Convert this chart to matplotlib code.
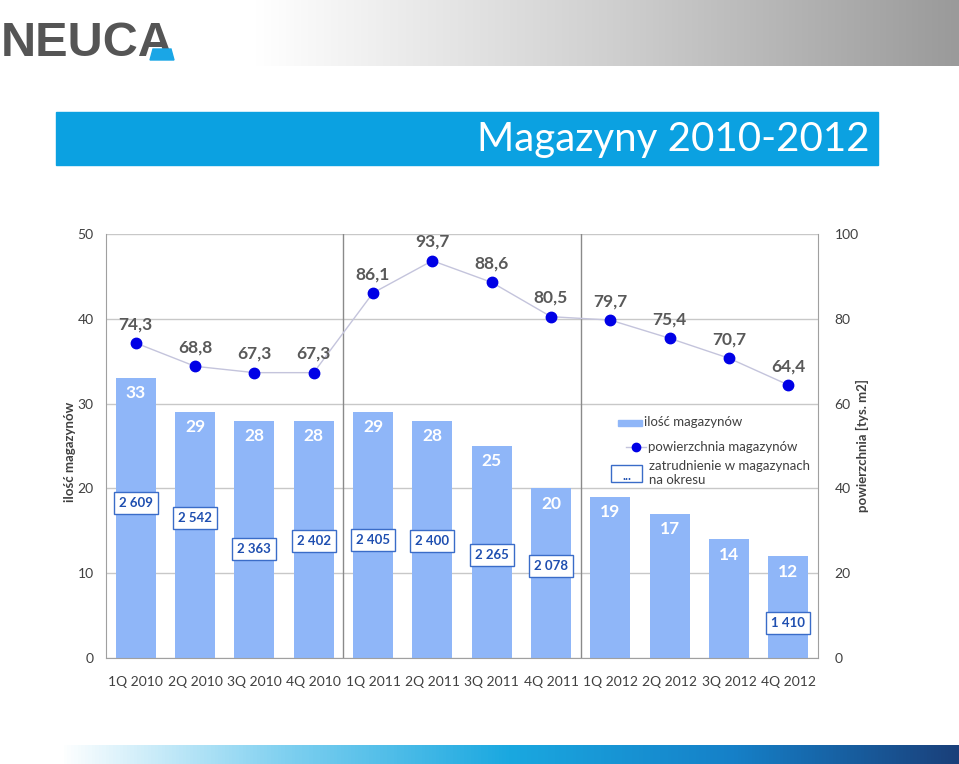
import numpy as np
import matplotlib
matplotlib.use("Agg")
import matplotlib.pyplot as plt
from matplotlib.patches import Rectangle, Polygon
from matplotlib.lines import Line2D
from matplotlib.colors import LinearSegmentedColormap

plt.rcParams['font.family'] = ['Lato', 'DejaVu Sans']

# ---- data ----
quarters = ["1Q 2010", "2Q 2010", "3Q 2010", "4Q 2010", "1Q 2011", "2Q 2011",
            "3Q 2011", "4Q 2011", "1Q 2012", "2Q 2012", "3Q 2012", "4Q 2012"]
warehouses = [33, 29, 28, 28, 29, 28, 25, 20, 19, 17, 14, 12]
area = [74.3, 68.8, 67.3, 67.3, 86.1, 93.7, 88.6, 80.5, 79.7, 75.4, 70.7, 64.4]
employment = [2609, 2542, 2363, 2402, 2405, 2400, 2265, 2078, None, None, None, 1410]
# label placement (left-axis units) for employment boxes
emp_label_y = [18.3, 16.5, 12.9, 13.8, 13.9, 13.8, 12.1, 10.8, None, None, None, 4.1]

left_ticks = [0, 10, 20, 30, 40, 50]
right_ticks = [0, 20, 40, 60, 80, 100]

def fmt_dec(v):
    return f"{v:.1f}".replace(".", ",")

def fmt_thousands(v):
    return f"{v:,}".replace(",", " ")

W, H = 959, 764
fig = plt.figure(figsize=(W / 100, H / 100), dpi=100)

# ---- header decorations ----
bg = fig.add_axes([0, 0, 1, 1], zorder=-10)
bg.set_xlim(0, W)
bg.set_ylim(H, 0)
bg.axis("off")

grad = np.linspace(0, 1, 256)[None, :]
gcm = LinearSegmentedColormap.from_list("g", ["#ffffff", "#d0d0d0", "#9a9a9a"])
bg.imshow(grad, cmap=gcm, extent=[255, W, 66, 0], aspect="auto")
bcm = LinearSegmentedColormap.from_list("b", ["#ffffff", "#7fd0f0", "#1aa8e0", "#1580c8", "#1a3f7a"])
bg.imshow(grad, cmap=bcm, extent=[60, W, H, 745], aspect="auto")

# logo
bg.text(1, 43, "NEUCA", fontsize=35, fontweight="bold", color="#555555",
        family=["Liberation Sans", "DejaVu Sans"], va="center", ha="left")
bg.add_patch(Polygon([[153, 49], [171, 49], [174, 60], [150, 60]], closed=True,
                     color="#1aa6e6", zorder=5))

# title bar
bg.add_patch(Rectangle((56, 112), 822, 53, color="#0ba1e1"))
bg.text(870, 140, "Magazyny 2010-2012", fontsize=29, color="white",
        ha="right", va="center")

# ---- chart ----
ax = fig.add_axes([106 / W, 1 - 658 / H, 712 / W, 424 / H])
x = np.arange(len(quarters))
bar_color = "#8fb6f8"
txt_color = "#404040"

ax.set_xlim(-0.5, len(quarters) - 0.5)
ax.set_ylim(0, 50)
ax.set_yticks(left_ticks)
ax.grid(axis="y", color="#c8c8c8", lw=1)
ax.set_axisbelow(True)
ax.bar(x, warehouses, width=0.67, color=bar_color, zorder=2)
for xi, v in zip(x, warehouses):
    ax.annotate(str(v), (xi, v), xytext=(0, -11), textcoords="offset points",
                ha="center", va="center", color="white", fontsize=12.5,
                fontweight="bold", zorder=4)

for sep in (3.5, 7.5):
    ax.axvline(sep, color="#8a8a8a", lw=1, zorder=1)

for xi, e, yl in zip(x, employment, emp_label_y):
    if e is None:
        continue
    ax.text(xi, yl, fmt_thousands(e), ha="center", va="center", fontsize=9.5,
            fontweight="bold", color="#1f4fb0", zorder=5,
            bbox=dict(boxstyle="square,pad=0.38", fc="white", ec="#3a6cc8", lw=1))

ax.spines["top"].set_visible(False)
for s in ("left", "right", "bottom"):
    ax.spines[s].set_color("#a0a0a0")

ax.set_xticks(x)
ax.set_xticklabels(quarters)
ax.tick_params(axis="x", length=0, pad=13, labelsize=10, labelcolor=txt_color)
ax.tick_params(axis="y", length=0, pad=9, labelsize=10, labelcolor=txt_color)

ax2 = ax.twinx()
ax2.set_ylim(0, 100)
ax2.set_yticks(right_ticks)
ax2.tick_params(axis="y", length=0, pad=12, labelsize=10, labelcolor=txt_color)
for s in ax2.spines.values():
    s.set_visible(False)
ax2.plot(x, area, color="#c4c4dc", lw=1, marker="o", markersize=7.5,
         markerfacecolor="#0000e6", markeredgecolor="#0000e6", zorder=3)
for xi, v in zip(x, area):
    ax2.annotate(fmt_dec(v), (xi, v), xytext=(0, 13.5), textcoords="offset points",
                 ha="center", va="center", fontsize=12.5, fontweight="bold",
                 color="#595959")

# axis titles
fig.text(70 / W, 1 - 452 / H, "ilość magazynów", rotation=90, ha="center", va="center",
         fontsize=9.5, fontweight="bold", color=txt_color)
fig.text(862 / W, 1 - 446 / H, "powierzchnia [tys. m2]", rotation=90, ha="center",
         va="center", fontsize=9.5, fontweight="bold", color=txt_color)

# ---- legend (drawn in axes fraction) ----
T = ax.transAxes
def fx(px):
    return (px - 106) / 712
def fy(py):
    return (658 - py) / 424

ax.add_patch(Rectangle((fx(618), fy(426)), fx(642) - fx(618), fy(420) - fy(426),
                       transform=T, color=bar_color, zorder=6, clip_on=False))
ax.text(fx(644), fy(422), "ilość magazynów", transform=T, fontsize=9.5,
        color="#404040", va="center", ha="left", zorder=6)
ax.add_line(Line2D([fx(626), fx(646)], [fy(447), fy(447)], transform=T,
                   color="#c4c4dc", lw=1, zorder=6))
ax.add_line(Line2D([fx(636)], [fy(447)], transform=T, marker="o", markersize=6,
                   color="#0000e6", zorder=7))
ax.text(fx(648), fy(447), "powierzchnia magazynów", transform=T, fontsize=9.5,
        color="#404040", va="center", ha="left", zorder=6)
ax.add_patch(Rectangle((fx(611), fy(482)), fx(642) - fx(611), fy(465) - fy(482),
                       transform=T, fc="white", ec="#3a6cc8", lw=1, zorder=6))
ax.text(fx(626.5), fy(476), "...", transform=T, fontsize=9, color="#1f4fb0",
        ha="center", va="center", fontweight="bold", zorder=7)
ax.text(fx(649), fy(466), "zatrudnienie w magazynach", transform=T, fontsize=9.5,
        color="#404040", va="center", ha="left", zorder=6)
ax.text(fx(649), fy(480), "na okresu", transform=T, fontsize=9.5,
        color="#404040", va="center", ha="left", zorder=6)

fig.savefig("out.png", dpi=100)
